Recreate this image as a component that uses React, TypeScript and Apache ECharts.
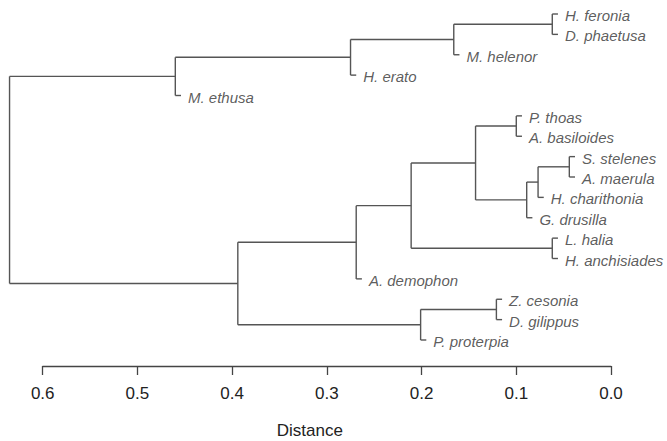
import React, { useEffect, useRef } from "react";
import * as echarts from "echarts";

// Leaf order, top to bottom
const leaves = [
  "H. feronia",
  "D. phaetusa",
  "M. helenor",
  "H. erato",
  "M. ethusa",
  "P. thoas",
  "A. basiloides",
  "S. stelenes",
  "A. maerula",
  "H. charithonia",
  "G. drusilla",
  "L. halia",
  "H. anchisiades",
  "A. demophon",
  "Z. cesonia",
  "D. gilippus",
  "P. proterpia",
];

// hclust-style merge table: negative = leaf (1-based), positive = earlier merge (1-based)
const mergeUpper = [-8, -1, -12, 1, 4, -6, -15, 6, 2, 7, 8, 11, 9, 12, 13, 15];
const mergeLower = [-9, -2, -13, -10, -11, -7, -16, 5, -3, -17, 3, -14, -4, 10, -5, 14];
const mergeHeight = [
  0.044, 0.062, 0.062, 0.077, 0.089, 0.1, 0.121, 0.143, 0.166, 0.201, 0.211,
  0.269, 0.275, 0.394, 0.46, 0.635,
];

// short stub drawn for each leaf below its joining height
const leafHang = 0.006;

const axisMin = 0;
const axisMax = 0.6;
const axisStep = 0.1;

type Seg = [number, number, number, number];

function buildTree() {
  const nodeX: number[] = [];
  const nodeY: number[] = [];
  const segs: Seg[] = [];
  const tips: [number, number, string][] = [];

  const child = (ref: number, h: number): [number, number] => {
    if (ref < 0) {
      const i = -ref - 1;
      const x = h - leafHang;
      tips.push([x, i, leaves[i]]);
      return [x, i];
    }
    return [nodeX[ref - 1], nodeY[ref - 1]];
  };

  for (let k = 0; k < mergeHeight.length; k++) {
    const h = mergeHeight[k];
    const [xa, ya] = child(mergeUpper[k], h);
    const [xb, yb] = child(mergeLower[k], h);
    segs.push([h, ya, h, yb]);
    segs.push([h, ya, xa, ya]);
    segs.push([h, yb, xb, yb]);
    nodeX.push(h);
    nodeY.push((ya + yb) / 2);
  }
  return { segs, tips };
}

export default function App() {
  const ref = useRef<HTMLDivElement>(null);

  useEffect(() => {
    if (!ref.current) return;
    const chart = echarts.init(ref.current, undefined, { renderer: "svg" });
    const { segs, tips } = buildTree();
    const font = "'Liberation Sans', Arial, sans-serif";

    chart.setOption({
      animation: false,
      backgroundColor: "#ffffff",
      grid: {
        left: 42.7,
        right: 56,
        top: 14,
        bottom: 101,
        containLabel: false,
        outerBoundsMode: "none",
      },
      xAxis: {
        type: "value",
        position: "bottom",
        min: axisMin,
        max: axisMax,
        interval: axisStep,
        inverse: true,
        offset: 26,
        splitLine: { show: false },
        axisLine: { show: true, onZero: false, lineStyle: { color: "#444", width: 1.3 } },
        axisTick: { show: true, length: 9, lineStyle: { color: "#444", width: 1.3 } },
        axisLabel: {
          margin: 19,
          fontSize: 17,
          color: "#222",
          fontFamily: font,
          formatter: (v: number) => v.toFixed(1),
        },
        name: "Distance",
        nameLocation: "middle",
        nameGap: 56,
        nameTextStyle: {
          fontSize: 17,
          color: "#222",
          fontFamily: font,
          padding: [0, 34, 0, 0],
        },
      },
      yAxis: {
        type: "value",
        min: 0,
        max: leaves.length - 1,
        inverse: true,
        show: false,
      },
      series: [
        {
          type: "custom",
          clip: false,
          data: segs,
          encode: { x: [0, 2], y: [1, 3] },
          renderItem: (_p: any, api: any) => {
            const a = api.coord([api.value(0), api.value(1)]);
            const b = api.coord([api.value(2), api.value(3)]);
            return {
              type: "line",
              shape: { x1: a[0], y1: a[1], x2: b[0], y2: b[1] },
              style: { stroke: "#555", lineWidth: 1.4 },
            };
          },
        },
        {
          type: "scatter",
          symbolSize: 0,
          clip: false,
          data: tips,
          label: {
            show: true,
            position: "right",
            distance: 7,
            offset: [0, 1.5],
            formatter: (p: any) => p.value[2],
            fontSize: 15,
            fontStyle: "italic",
            color: "#333",
            fontFamily: font,
          },
        },
      ],
    });

    return () => chart.dispose();
  }, []);

  return (
    <div
      ref={ref}
      style={{ position: "fixed", left: 0, top: 0, width: 667, height: 441 }}
    />
  );
}
